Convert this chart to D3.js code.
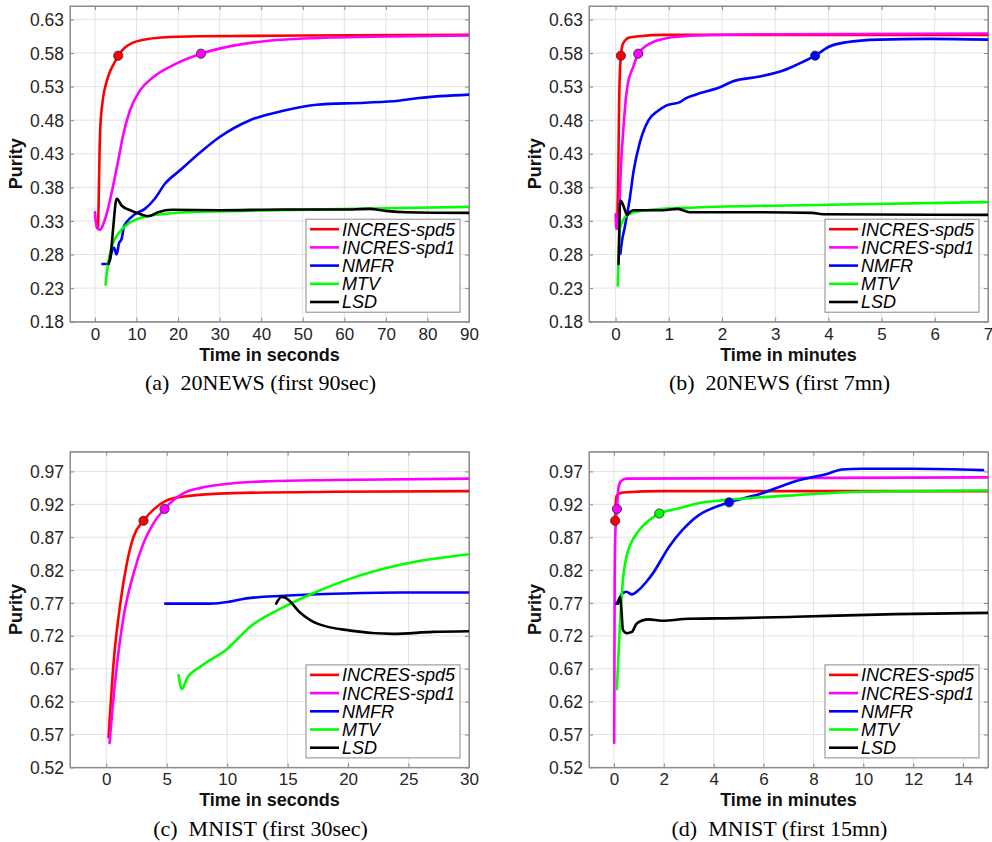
<!DOCTYPE html>
<html>
<head>
<meta charset="utf-8">
<script src="https://cdn.jsdelivr.net/npm/d3@7"></script>
<style>
  body { margin: 0; background: #fff; }
  svg { display: block; }
</style>
</head>
<body>
<div id="chart"></div>
<script>
// legend / series
const seriesNames = ["INCRES-spd5", "INCRES-spd1", "NMFR", "MTV", "LSD"];
const seriesColors = ["#ff0000", "#ff00ff", "#0000ff", "#00ff00", "#000000"];

// tick labels
const ticksNews = [0.18, 0.23, 0.28, 0.33, 0.38, 0.43, 0.48, 0.53, 0.58, 0.63];
const ticksMnist = [0.52, 0.57, 0.62, 0.67, 0.72, 0.77, 0.82, 0.87, 0.92, 0.97];
const ticksSec90 = [0, 10, 20, 30, 40, 50, 60, 70, 80, 90];
const ticksMin7 = [0, 1, 2, 3, 4, 5, 6, 7];
const ticksSec30 = [0, 5, 10, 15, 20, 25, 30];
const ticksMin15 = [0, 2, 4, 6, 8, 10, 12, 14];

// (a) 20NEWS, first 90 sec  [time, purity]
const aSpd5 = [[0.4,0.322],[0.7,0.318],[0.9,0.36],[1.1,0.43],[1.3,0.47],[1.7,0.50],[2.0,0.515],[2.8,0.537],[3.6,0.552],[4.8,0.567],[5.6,0.576],[7,0.587],[9,0.595],[12,0.600],[16,0.603],[25,0.605],[50,0.606],[90,0.607]];
const aSpd1 = [[0,0.343],[0.3,0.325],[0.8,0.318],[1.3,0.317],[2.0,0.325],[2.8,0.34],[3.6,0.36],[4.4,0.383],[5.6,0.42],[6.8,0.458],[8.4,0.494],[10.8,0.524],[14,0.544],[18.8,0.562],[25.5,0.579],[33.3,0.591],[41.3,0.598],[57,0.603],[75,0.605],[90,0.606]];
const aNmfr = [[1.8,0.266],[2.8,0.266],[3.6,0.272],[4.0,0.283],[4.6,0.29],[5.2,0.28],[5.8,0.297],[6.4,0.303],[7.0,0.322],[7.6,0.328],[9.6,0.34],[12,0.348],[14.4,0.363],[16.8,0.385],[20.4,0.405],[25.3,0.432],[30,0.455],[37.3,0.48],[45.3,0.494],[53.3,0.503],[65,0.506],[73,0.509],[78,0.513],[90,0.518]];
const aMtv = [[2.57,0.235],[2.8,0.25],[3.05,0.261],[3.5,0.278],[4.0,0.291],[4.8,0.303],[5.6,0.311],[8.0,0.326],[11.2,0.335],[16,0.34],[21.7,0.343],[28,0.344],[45,0.346],[70,0.349],[90,0.351]];
const aLsd = [[3.3,0.266],[3.8,0.28],[4.4,0.32],[5.0,0.358],[5.3,0.363],[6.4,0.353],[8.8,0.345],[11,0.340],[12.8,0.337],[15.2,0.343],[18.5,0.3466],[30,0.346],[45,0.347],[60,0.347],[66,0.348],[70,0.345],[75,0.343],[90,0.342]];
const aDots = [[0, 5.6, 0.576], [1, 25.5, 0.579]]; // [series, time, purity]

// (b) 20NEWS, first 7 min
const bSpd5 = [[0.03,0.32],[0.05,0.40],[0.065,0.50],[0.08,0.55],[0.1,0.576],[0.14,0.594],[0.26,0.603],[0.45,0.605],[0.9,0.607],[7,0.607]];
const bSpd1 = [[0.0,0.34],[0.015,0.318],[0.04,0.32],[0.075,0.36],[0.1,0.41],[0.14,0.46],[0.19,0.51],[0.23,0.534],[0.33,0.559],[0.425,0.579],[0.5,0.586],[0.64,0.594],[0.89,0.601],[1.5,0.606],[3,0.608],[7,0.609]];
const bNmfr = [[0.09,0.281],[0.12,0.30],[0.17,0.32],[0.26,0.36],[0.34,0.405],[0.45,0.445],[0.62,0.48],[0.8,0.494],[0.96,0.502],[1.21,0.507],[1.31,0.512],[1.5,0.518],[1.96,0.529],[2.21,0.538],[2.71,0.545],[3.15,0.554],[3.39,0.562],[3.75,0.576],[4.0,0.589],[4.33,0.596],[4.95,0.600],[5.9,0.601],[7,0.600]];
const bMtv = [[0.04,0.234],[0.06,0.28],[0.075,0.316],[0.12,0.328],[0.17,0.335],[0.3,0.342],[0.58,0.346],[1.5,0.350],[4,0.354],[7,0.358]];
const bLsd = [[0.055,0.266],[0.07,0.32],[0.085,0.36],[0.1,0.36],[0.14,0.354],[0.22,0.339],[0.28,0.344],[0.33,0.346],[0.89,0.346],[1.17,0.348],[1.39,0.343],[2.76,0.343],[3.7,0.342],[3.89,0.340],[7,0.339]];
const bDots = [[0, 0.1, 0.576], [1, 0.425, 0.579], [2, 3.75, 0.576]];

// (c) MNIST, first 30 sec
const cSpd5 = [[0.19,0.566],[0.6,0.678],[1.16,0.769],[1.7,0.83],[2.26,0.871],[3.08,0.895],[3.9,0.912],[5.0,0.926],[6.4,0.932],[10.5,0.937],[18.8,0.939],[30,0.940]];
const cSpd1 = [[0.27,0.557],[0.74,0.652],[1.43,0.749],[2.26,0.815],[3.08,0.861],[3.9,0.891],[4.82,0.913],[6.4,0.937],[7.8,0.945],[10.5,0.952],[13.3,0.955],[18.8,0.957],[30,0.959]];
const cNmfr = [[4.88,0.769],[8.6,0.769],[10.2,0.772],[11.6,0.777],[14.7,0.781],[18.8,0.784],[24.3,0.786],[30,0.786]];
const cMtv = [[5.98,0.66],[6.25,0.639],[6.67,0.655],[7.77,0.673],[10,0.70],[11.9,0.734],[14.7,0.764],[17.4,0.787],[20.2,0.807],[24.3,0.828],[30,0.844]];
const cLsd = [[14.05,0.769],[14.5,0.779],[14.9,0.777],[16,0.756],[17.4,0.739],[20.2,0.728],[23.7,0.723],[27,0.726],[30,0.727]];
const cDots = [[0, 3.08, 0.895], [1, 4.82, 0.913]];

// (d) MNIST, first 15 min
const dSpd5 = [[0.05,0.895],[0.08,0.925],[0.12,0.934],[0.36,0.938],[1.96,0.940],[15,0.940]];
const dSpd1 = [[0.01,0.557],[0.03,0.80],[0.06,0.88],[0.12,0.913],[0.18,0.945],[0.28,0.955],[0.5,0.959],[15,0.961]];
const dNmfr = [[0.09,0.769],[0.2,0.775],[0.32,0.784],[0.5,0.787],[0.72,0.783],[1.0,0.79],[1.32,0.803],[1.56,0.815],[2.22,0.856],[2.75,0.881],[3.42,0.904],[3.95,0.914],[4.62,0.923],[5.95,0.937],[7.28,0.955],[8.61,0.967],[9.14,0.973],[9.94,0.974],[12,0.974],[14.8,0.972]];
const dMtv = [[0.12,0.639],[0.18,0.69],[0.23,0.728],[0.36,0.805],[0.5,0.84],[0.63,0.856],[1.02,0.881],[1.42,0.896],[1.82,0.906],[2.62,0.914],[3.29,0.921],[4.62,0.927],[7.28,0.934],[9.94,0.939],[15,0.941]];
const dLsd = [[0.16,0.769],[0.25,0.779],[0.3,0.76],[0.36,0.729],[0.52,0.724],[0.72,0.726],[0.92,0.739],[1.38,0.745],[1.92,0.743],[3,0.746],[5,0.747],[7.28,0.749],[11.3,0.753],[15,0.755]];
const dDots = [[0, 0.05, 0.895], [1, 0.12, 0.913], [3, 1.82, 0.906], [2, 4.62, 0.923]];

const panels = [
    { left: 70, top: 6, xDom: [-6, 90], yDom: [0.18, 0.65], xTicks: ticksSec90, yTicks: ticksNews,
      xLabel: "Time in seconds", caption: "(a)\u00a0 20NEWS (first 90sec)",
      series: [aSpd5, aSpd1, aNmfr, aMtv, aLsd], dots: aDots },
    { left: 589, top: 6, xDom: [-0.5, 7], yDom: [0.18, 0.65], xTicks: ticksMin7, yTicks: ticksNews,
      xLabel: "Time in minutes", caption: "(b)\u00a0 20NEWS (first 7mn)",
      series: [bSpd5, bSpd1, bNmfr, bMtv, bLsd], dots: bDots },
    { left: 70, top: 451.7, xDom: [-3, 30], yDom: [0.52, 1.0], xTicks: ticksSec30, yTicks: ticksMnist,
      xLabel: "Time in seconds", caption: "(c)\u00a0 MNIST (first 30sec)",
      series: [cSpd5, cSpd1, cNmfr, cMtv, cLsd], dots: cDots },
    { left: 589, top: 451.7, xDom: [-1, 15], yDom: [0.52, 1.0], xTicks: ticksMin15, yTicks: ticksMnist,
      xLabel: "Time in minutes", caption: "(d)\u00a0 MNIST (first 15mn)",
      series: [dSpd5, dSpd1, dNmfr, dMtv, dLsd], dots: dDots }
];

const plotW = 399, plotH = 315.7;
const axisColor = "#8a8a8a";
const sans = "'Liberation Sans', Arial, Helvetica, sans-serif";

const svg = d3.select("#chart").append("svg")
    .attr("width", 992)
    .attr("height", 842);

panels.forEach((p, pi) => {
    let x = d3.scaleLinear().domain(p.xDom).range([0, plotW]);
    let y = d3.scaleLinear().domain(p.yDom).range([plotH, 0]);

    let g = svg.append("g").attr("transform", `translate(${p.left},${p.top})`);

    g.append("clipPath").attr("id", "clip" + pi)
        .append("rect").attr("width", plotW).attr("height", plotH);

    // grid
    g.append("g")
        .selectAll("line.vgrid")
        .data(p.xTicks)
        .enter()
        .append("line")
        .attr("x1", d => x(d)).attr("x2", d => x(d))
        .attr("y1", 0).attr("y2", plotH)
        .attr("stroke", "#e3e3e3").attr("stroke-width", 1);
    g.append("g")
        .selectAll("line.hgrid")
        .data(p.yTicks)
        .enter()
        .append("line")
        .attr("x1", 0).attr("x2", plotW)
        .attr("y1", d => y(d)).attr("y2", d => y(d))
        .attr("stroke", "#e3e3e3").attr("stroke-width", 1);

    // axes (ticks inside, matlab style)
    let xAxis = g.append("g")
        .attr("transform", `translate(0,${plotH})`)
        .call(d3.axisBottom(x).tickValues(p.xTicks).tickSizeInner(-4).tickSizeOuter(0).tickPadding(6).tickFormat(d3.format("d")));
    let yAxis = g.append("g")
        .call(d3.axisLeft(y).tickValues(p.yTicks).tickSizeInner(-4).tickSizeOuter(0).tickPadding(6).tickFormat(d3.format(".2f")));
    g.append("g")
        .call(d3.axisTop(x).tickValues(p.xTicks).tickSizeInner(-4).tickSizeOuter(0).tickFormat(""));
    g.append("g")
        .attr("transform", `translate(${plotW},0)`)
        .call(d3.axisRight(y).tickValues(p.yTicks).tickSizeInner(-4).tickSizeOuter(0).tickFormat(""));

    g.selectAll(".domain").attr("stroke", axisColor);
    g.selectAll(".tick line").attr("stroke", axisColor);
    xAxis.selectAll("text")
        .attr("font-family", sans).attr("font-size", 17).attr("fill", "#262626")
        .attr("dy", "0.71em");
    yAxis.selectAll("text")
        .attr("font-family", sans).attr("font-size", 17.5).attr("fill", "#262626")
        .attr("dy", "0.35em");

    // box
    g.append("rect")
        .attr("width", plotW).attr("height", plotH)
        .attr("fill", "none").attr("stroke", axisColor).attr("stroke-width", 1);

    // axis titles
    g.append("text")
        .attr("x", plotW / 2).attr("y", plotH + 39)
        .attr("text-anchor", "middle")
        .attr("font-family", sans).attr("font-weight", "bold").attr("font-size", 18)
        .attr("fill", "#111")
        .text(p.xLabel);
    g.append("text")
        .attr("transform", `translate(-48,${plotH / 2}) rotate(-90)`)
        .attr("text-anchor", "middle")
        .attr("font-family", sans).attr("font-weight", "bold").attr("font-size", 18)
        .attr("fill", "#111")
        .text("Purity");

    // curves
    let line = d3.line()
        .x(d => x(d[0]))
        .y(d => y(d[1]))
        .curve(d3.curveMonotoneX);
    let curves = g.append("g").attr("clip-path", `url(#clip${pi})`);
    curves.selectAll("path")
        .data(p.series)
        .enter()
        .append("path")
        .attr("d", line)
        .attr("fill", "none")
        .attr("stroke", (d, i) => seriesColors[i])
        .attr("stroke-width", 2.6)
        .attr("stroke-linejoin", "round")
        .attr("stroke-linecap", "round");

    // markers
    curves.selectAll("circle")
        .data(p.dots)
        .enter()
        .append("circle")
        .attr("cx", d => x(d[1]))
        .attr("cy", d => y(d[2]))
        .attr("r", 4.6)
        .attr("fill", d => seriesColors[d[0]])
        .attr("stroke", "#333")
        .attr("stroke-width", 0.9);

    // legend
    let lw = 154, lh = 93;
    let lg = g.append("g")
        .attr("transform", `translate(${plotW - 9 - lw},${plotH - 9.5 - lh})`);
    lg.append("rect")
        .attr("width", lw).attr("height", lh)
        .attr("fill", "#fff").attr("stroke", axisColor).attr("stroke-width", 1);
    let items = lg.selectAll("g.item")
        .data(seriesNames)
        .enter()
        .append("g")
        .attr("transform", (d, i) => `translate(0,${10 + i * 18.2})`);
    items.append("line")
        .attr("x1", 4).attr("x2", 33)
        .attr("stroke", (d, i) => seriesColors[i])
        .attr("stroke-width", 2.6);
    items.append("text")
        .attr("x", 36).attr("dy", "0.36em")
        .attr("font-family", sans).attr("font-style", "italic").attr("font-size", 18)
        .attr("fill", "#000")
        .text(d => d);

    // caption
    g.append("text")
        .attr("x", plotW / 2 - 9).attr("y", plotH + 68.3)
        .attr("text-anchor", "middle")
        .attr("font-family", "'Liberation Serif', 'Times New Roman', serif").attr("font-size", 22)
        .attr("fill", "#000")
        .text(p.caption);
});
</script>
</body>
</html>
